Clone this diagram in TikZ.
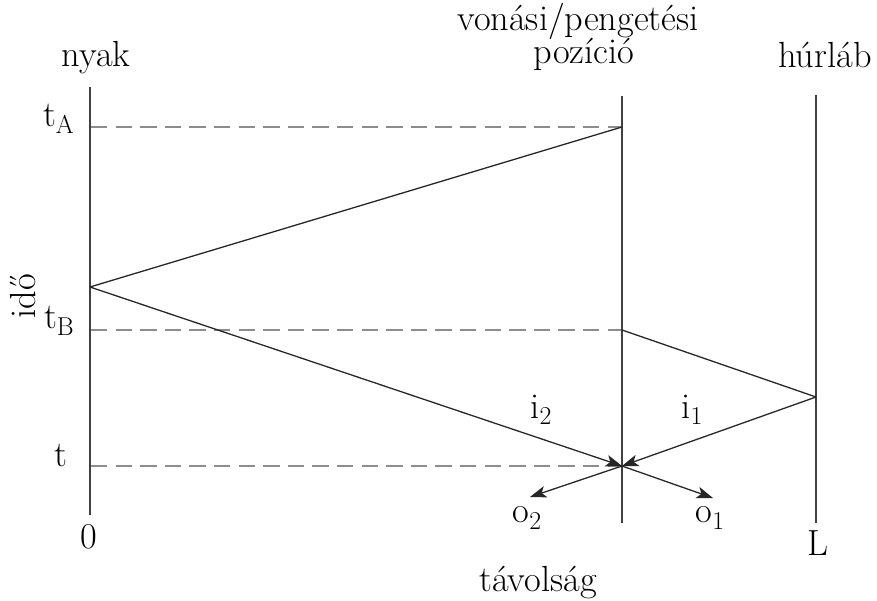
\documentclass[tikz,border=0pt]{standalone}
\usetikzlibrary{arrows.meta}
\newcommand\lowsub[1]{\raisebox{-0.4ex}{\fontsize{22}{24}\selectfont #1}}
\begin{document}
\begin{tikzpicture}[x=0.03cm,y=-0.03cm,
  lbl/.style={font=\fontsize{31}{35}\selectfont, inner sep=0pt},
  axis/.style={draw=black!75, line width=1.6pt},
  ray/.style={draw=black!85, line width=1.1pt},
  guide/.style={draw=black!45, line width=1.2pt, dash pattern=on 14pt off 7pt},
  arr/.style={-{Stealth[length=14pt,width=10pt,inset=3.5pt]}}]
\useasboundingbox (0,0) rectangle (877,601);
% coordinates
\coordinate (N0) at (90,87);
\coordinate (N1) at (90,515);
\coordinate (M0) at (622,96);
\coordinate (M1) at (622,523);
\coordinate (R0) at (816,95);
\coordinate (R1) at (816,523);
\coordinate (A) at (622,127);
\coordinate (Lp) at (90,287);
\coordinate (B) at (622,330);
\coordinate (Rp) at (816,397);
\coordinate (X) at (622,466);
\coordinate (o2e) at (530,497);
\coordinate (o1e) at (713,498);
\coordinate (dA) at (91,127);
\coordinate (dB) at (91,330);
\coordinate (dT) at (91,466);
% guides
\draw[guide] (dA) -- (A);
\draw[guide] (dB) -- (B);
\draw[guide] (dT) -- (X);
% axes
\draw[axis] (N0) -- (N1);
\draw[axis] (M0) -- (M1);
\draw[axis] (R0) -- (R1);
% rays
\draw[ray] (A) -- (Lp);
\draw[ray, arr] (Lp) -- (X);
\draw[ray] (B) -- (Rp);
\draw[ray, arr] (Rp) -- (X);
\draw[ray, arr] (X) -- (o2e);
\draw[ray, arr] (X) -- (o1e);
% labels
\node[lbl, anchor=base] (nyak) at (96,67) {nyak};
\node[lbl, anchor=base] (vp1) at (578,31) {vonási/pengetési};
\node[lbl, anchor=base] (vp2) at (584,64) {pozíció};
\node[lbl, anchor=base] (hur) at (825,68) {húrláb};
\node[lbl, anchor=base east] (tA) at (74,127) {t\lowsub{A}};
\node[lbl, anchor=base east] (tB) at (74,329) {t\lowsub{B}};
\node[lbl, anchor=base east] (tt) at (68,466) {t};
\node[lbl, rotate=90] (ido) at (23,296) {idő};
\node[lbl] (zero) at (89,537) {0};
\node[lbl] (Ll) at (818,543) {L};
\node[lbl, anchor=base] (tav) at (538,591) {távolság};
\node[lbl] (i2) at (541,410) {i\lowsub{2}};
\node[lbl] (i1) at (692,410) {i\lowsub{1}};
\node[lbl] (o2) at (527,518) {o\lowsub{2}};
\node[lbl] (o1) at (710,518) {o\lowsub{1}};
\end{tikzpicture}
\end{document}
